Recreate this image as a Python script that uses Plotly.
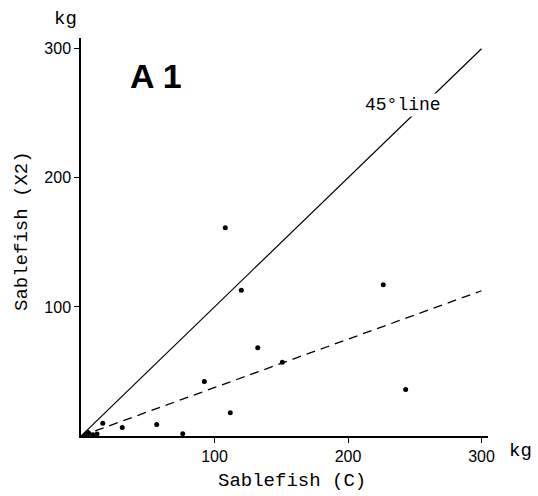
import plotly.graph_objects as go

# Data
catch_c = [108.1, 120.1, 226.4, 132.4, 150.8, 92.4, 111.8, 56.7, 76.2, 30.9, 16.3, 243.2, 3, 6, 9, 12, 5]
catch_x2 = [161.3, 112.9, 117.1, 68.3, 57.2, 42.2, 18.0, 8.9, 1.7, 6.6, 9.9, 36.0, 0.5, 2, 1, 1.5, 3]
line45_x = [0, 300]
line45_y = [0, 300]
fit_x = [0, 300]
fit_y = [0, 112.5]
tick_vals = [100, 200, 300]
tick_text = ["100", "200", "300"]

W, H = 538, 496
L, R, T, B = 81, 50, 38, 60
PW, PH = W - L - R, H - T - B


def px(x):
    return (x - L) / PW


def py(y):
    return (H - B - y) / PH


mono = "Liberation Mono"
fig = go.Figure()
fig.add_trace(go.Scatter(x=line45_x, y=line45_y, mode="lines",
                         line=dict(color="black", width=1.2), hoverinfo="skip"))
fig.add_trace(go.Scatter(x=fit_x, y=fit_y, mode="lines",
                         line=dict(color="black", width=1.3, dash="9px,6px"), hoverinfo="skip"))
fig.add_trace(go.Scatter(x=catch_c, y=catch_x2, mode="markers",
                         marker=dict(color="black", size=5)))

fig.update_layout(
    width=W, height=H, showlegend=False,
    margin=dict(l=L, r=R, t=T, b=B),
    paper_bgcolor="white", plot_bgcolor="white",
    font=dict(family="Liberation Sans", color="black"),
)
fig.update_xaxes(range=[0, PW / 1.335], showgrid=False, zeroline=False,
                 showline=True, linecolor="black", linewidth=1.5,
                 ticks="outside", ticklen=5, tickcolor="black",
                 tickvals=tick_vals, ticktext=tick_text,
                 tickfont=dict(size=16, family="Liberation Sans"))
fig.update_yaxes(range=[0, PH / 1.291], showgrid=False, zeroline=False,
                 showline=True, linecolor="black", linewidth=1.5,
                 ticks="outside", ticklen=5, tickcolor="black",
                 tickvals=tick_vals, ticktext=tick_text,
                 tickfont=dict(size=16, family="Liberation Sans"))

ann = [
    dict(text="<b>A 1</b>", x=px(156), y=py(76), font=dict(size=34, family="Liberation Sans", color="black"), bg=None),
    dict(text="45°line", x=px(403), y=py(105), font=dict(size=18, family=mono, color="black"), bg="white"),
    dict(text="Sablefish (C)", x=px(292), y=py(481), font=dict(size=19, family=mono, color="black"), bg=None),
    dict(text="kg", x=px(65), y=py(19), font=dict(size=19, family=mono, color="black"), bg=None),
    dict(text="kg", x=px(520), y=py(451), font=dict(size=19, family=mono, color="black"), bg=None),
]
for a in ann:
    fig.add_annotation(text=a["text"], x=a["x"], y=a["y"], xref="paper", yref="paper",
                       showarrow=False, font=a["font"], xanchor="center", yanchor="middle",
                       bgcolor=a["bg"] if a["bg"] else "rgba(0,0,0,0)")
fig.add_annotation(text="Sablefish (X2)", x=px(22), y=py(231), xref="paper", yref="paper",
                   showarrow=False, textangle=-90, font=dict(size=19, family=mono, color="black"),
                   xanchor="center", yanchor="middle")

fig.write_html("out.html")
